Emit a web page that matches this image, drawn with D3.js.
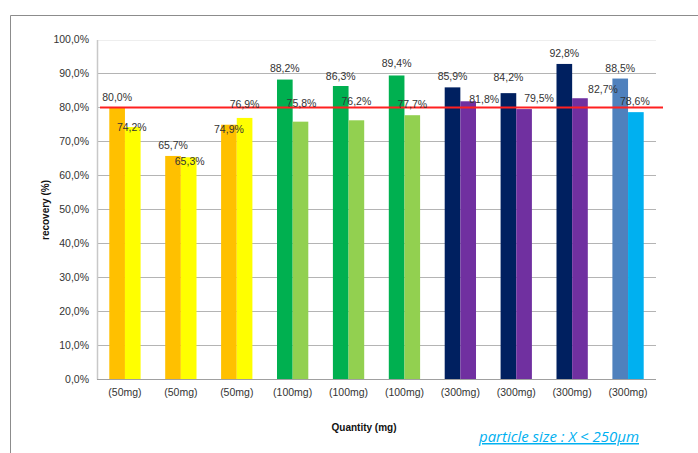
<!DOCTYPE html>
<html><head><meta charset="utf-8">
<script src="https://cdn.jsdelivr.net/npm/d3@7"></script>
<style>
body{margin:0;background:#fff;}
svg{display:block;font-family:"Liberation Sans",Arial,sans-serif;}
</style></head>
<body><svg id="c" width="698" height="453"></svg>
<script>
// ---- data ----
const categories = ["(50mg)","(50mg)","(50mg)","(100mg)","(100mg)","(100mg)","(300mg)","(300mg)","(300mg)","(300mg)"];
const seriesA = [80.0, 65.7, 74.9, 88.2, 86.3, 89.4, 85.9, 84.2, 92.8, 88.5];
const seriesB = [74.2, 65.3, 76.9, 75.8, 76.2, 77.7, 81.8, 79.5, 82.7, 78.6];
const colorsA = ["#FFC000","#FFC000","#FFC000","#00B050","#00B050","#00B050","#002060","#002060","#002060","#4F81BD"];
const colorsB = ["#FFFF00","#FFFF00","#FFFF00","#92D050","#92D050","#92D050","#7030A0","#7030A0","#7030A0","#00B0F0"];
const yTicks = [0,10,20,30,40,50,60,70,80,90,100];
const threshold = 80;
// label offsets (dx, dy relative to bar top center) — layout only
const labOffA = [[0,-10],[0,-11],[0,4],[0,-12],[0,-10],[0,-12],[0,-11],[0,-16],[0,-11],[0,-11]];
const labOffB = [[-1,0],[1,4],[0,-14],[1,-19],[0,-19],[0,-11],[16,-2],[15,-11],[23,-9],[-1,-11]];

const svg = d3.select("#c");
const L = 97, R = 656, T = 39.5, B = 379;
const x = d3.scaleBand().domain(d3.range(categories.length)).range([L, R]).paddingInner(0.44).paddingOuter(0.22);
const y = d3.scaleLinear().domain([0,100]).range([B, T]);
const fmt = v => d3.format(".1f")(v).replace(".", ",") + "%";

// frame
svg.append("path").attr("d","M10.5,453 V15.5 H698").attr("fill","none").attr("stroke","#8c8c8c").attr("stroke-width",1);

// gridlines
svg.append("g").selectAll("line").data(yTicks.filter(t=>t>0)).join("line")
  .attr("x1",L).attr("x2",R).attr("y1",d=>Math.round(y(d))+0.5).attr("y2",d=>Math.round(y(d))+0.5)
  .attr("stroke",d=>d===100?"#eeeeee":"#b4b4b4").attr("stroke-width",1);

// y axis
const yAxis = d3.axisLeft(y).tickValues(yTicks).tickSize(0).tickPadding(8).tickFormat(fmt);
const ga = svg.append("g").attr("transform",`translate(${L},0)`).call(yAxis);
ga.select(".domain").attr("stroke","#c8c8c8").attr("stroke-width",1.5);
ga.selectAll("text").attr("font-size",10.5).attr("fill","#333").attr("font-family","Liberation Sans, Arial, sans-serif");

// bars
const bw = x.bandwidth()/2;
const g = svg.append("g");
g.selectAll("rect.a").data(seriesA).join("rect").attr("class","a")
  .attr("x",(d,i)=>x(i)).attr("width",bw).attr("y",d=>y(d)).attr("height",d=>B-y(d))
  .attr("fill",(d,i)=>colorsA[i]);
g.selectAll("rect.b").data(seriesB).join("rect").attr("class","b")
  .attr("x",(d,i)=>x(i)+bw).attr("width",bw).attr("y",d=>y(d)).attr("height",d=>B-y(d))
  .attr("fill",(d,i)=>colorsB[i]);

// x axis baseline
const xAxis = d3.axisBottom(x).tickSize(0).tickPadding(10).tickFormat(i=>categories[i]);
const gx = svg.append("g").attr("transform",`translate(0,${B})`).call(xAxis);
gx.select(".domain").attr("stroke","#a0a0a0").attr("stroke-width",1.2).attr("d",`M${L},0.5H${R}`);
gx.selectAll("text").attr("font-size",10.5).attr("fill","#333").attr("font-family","Liberation Sans, Arial, sans-serif");

// threshold line
svg.append("line").attr("x1",100).attr("x2",663).attr("y1",y(threshold)).attr("y2",y(threshold))
  .attr("stroke","#ff2020").attr("stroke-width",2);

// value labels
const lab = svg.append("g").attr("font-size",10.5).attr("fill","#333").attr("text-anchor","middle");
lab.selectAll("text.a").data(seriesA).join("text").attr("class","a")
  .attr("x",(d,i)=>x(i)+bw/2+labOffA[i][0]).attr("y",(d,i)=>y(d)+labOffA[i][1]+4).text(fmt);
lab.selectAll("text.b").data(seriesB).join("text").attr("class","b")
  .attr("x",(d,i)=>x(i)+bw*1.5+labOffB[i][0]).attr("y",(d,i)=>y(d)+labOffB[i][1]+4).text(fmt);

// axis titles
svg.append("text").attr("transform","translate(49,210) rotate(-90)").attr("text-anchor","middle")
  .attr("font-size",10).attr("font-weight","bold").attr("fill","#111").text("recovery (%)");
svg.append("text").attr("x",364).attr("y",431).attr("text-anchor","middle")
  .attr("font-size",10).attr("font-weight","bold").attr("fill","#111").text("Quantity (mg)");

// annotation
svg.append("text").attr("x",479).attr("y",442).attr("font-size",15).attr("font-style","italic")
  .attr("fill","#00B0F0").attr("text-decoration","underline").attr("font-family","Open Sans, sans-serif")
  .attr("textLength",160).attr("lengthAdjust","spacingAndGlyphs").text("particle size : X < 250µm");
</script></body></html>
